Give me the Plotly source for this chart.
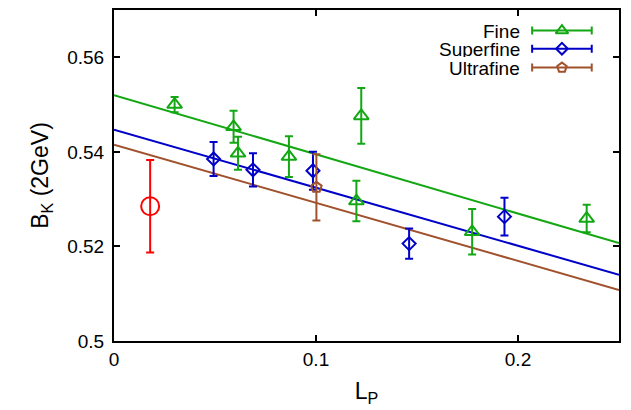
import plotly.graph_objects as go

# ---- data ----
fine_x = [0.0300, 0.0592, 0.0614, 0.0866, 0.1200, 0.1224, 0.1773, 0.2340]
fine_y = [0.5500, 0.5453, 0.5397, 0.5390, 0.5296, 0.5476, 0.5231, 0.5259]
fine_err = [0.0016, 0.0034, 0.0035, 0.0043, 0.0043, 0.0059, 0.0048, 0.0029]

super_x = [0.0493, 0.0688, 0.0985, 0.1461, 0.1933]
super_y = [0.5385, 0.5362, 0.5360, 0.5206, 0.5263]
super_err = [0.0036, 0.0035, 0.0040, 0.0032, 0.0040]

ultra_x = [0.1002]
ultra_y = [0.5325]
ultra_err = [0.0070]

cont_x = [0.0179]
cont_y = [0.5285]
cont_err = [0.0098]

fit_x = [0.0, 0.25]
fine_fit = [0.5520, 0.5207]
super_fit = [0.5447, 0.5140]
ultra_fit = [0.5415, 0.5108]

x_ticks = [0, 0.1, 0.2]
x_ticklabels = ["0", "0.1", "0.2"]
y_ticks = [0.50, 0.52, 0.54, 0.56]
y_ticklabels = ["0.5", "0.52", "0.54", "0.56"]

series_names = ["Fine", "Superfine", "Ultrafine"]

GREEN = "#13a813"
BLUE = "#0000c8"
BROWN = "#a0522d"
RED = "#ff0000"
FONT = "Liberation Sans"
FS = 19

fig = go.Figure()

# fit lines
for fy, c in [(fine_fit, GREEN), (super_fit, BLUE), (ultra_fit, BROWN)]:
    fig.add_trace(go.Scatter(x=fit_x, y=fy, mode="lines",
                             line=dict(color=c, width=2), showlegend=False,
                             hoverinfo="skip"))

def pts(x, y, e, c, sym, size):
    return go.Scatter(
        x=x, y=y, mode="markers",
        marker=dict(symbol=sym, size=size, color=c,
                    line=dict(color=c, width=2)),
        error_y=dict(type="data", array=e, visible=True, color=c,
                     thickness=2, width=4),
        showlegend=False)

fig.add_trace(pts(fine_x, fine_y, fine_err, GREEN, "triangle-up-open", 13))
fig.add_trace(pts(super_x, super_y, super_err, BLUE, "diamond-open", 10))
fig.add_trace(pts(ultra_x, ultra_y, ultra_err, BROWN, "pentagon-open", 11))
fig.add_trace(pts(cont_x, cont_y, cont_err, RED, "circle-open", 18))

# custom gnuplot-style key (overlay axes in plot-fraction units)
key_rows = [0.938, 0.883, 0.826]
key_syms = ["triangle-up-open", "diamond-open", "pentagon-open"]
key_sizes = [11, 9, 10]
key_cols = [GREEN, BLUE, BROWN]
for name, yk, s, sz, c in zip(series_names, key_rows, key_syms, key_sizes, key_cols):
    fig.add_trace(go.Scatter(
        x=[0.887], y=[yk], xaxis="x2", yaxis="y2", mode="markers",
        marker=dict(symbol=s, size=sz, color=c,
                    line=dict(color=c, width=2)),
        error_x=dict(type="constant", value=0.059, visible=True, color=c,
                     thickness=2, width=4),
        showlegend=False, hoverinfo="skip"))
    fig.add_annotation(x=0.806, y=yk, xref="paper", yref="paper",
                       text=name, showarrow=False, xanchor="right",
                       yanchor="middle", height=16, borderpad=0,
                       font=dict(family=FONT, size=FS, color="black"))

axis_common = dict(showline=True, linecolor="black", linewidth=2, mirror="allticks",
                   ticks="inside", ticklen=6, tickwidth=1.5, tickcolor="black",
                   showgrid=False, zeroline=False,
                   tickfont=dict(family=FONT, size=FS, color="black"))

fig.update_layout(
    width=631, height=410,
    margin=dict(l=114, r=12, t=8, b=69),
    paper_bgcolor="white", plot_bgcolor="white",
    font=dict(family=FONT, size=FS, color="black"),
    showlegend=False,
    xaxis=dict(range=[0, 0.25], tickvals=x_ticks, ticktext=x_ticklabels,
               title=dict(text="L<sub>P</sub>", standoff=14), **axis_common),
    yaxis=dict(range=[0.5, 0.57], tickvals=y_ticks, ticktext=y_ticklabels,
               ticklabelstandoff=4,
               title=dict(text="B<sub>K</sub> (2GeV)", standoff=12), **axis_common),
    xaxis2=dict(range=[0, 1], overlaying="x", visible=False),
    yaxis2=dict(range=[0, 1], overlaying="y", visible=False),
)

fig.write_html("out.html")
